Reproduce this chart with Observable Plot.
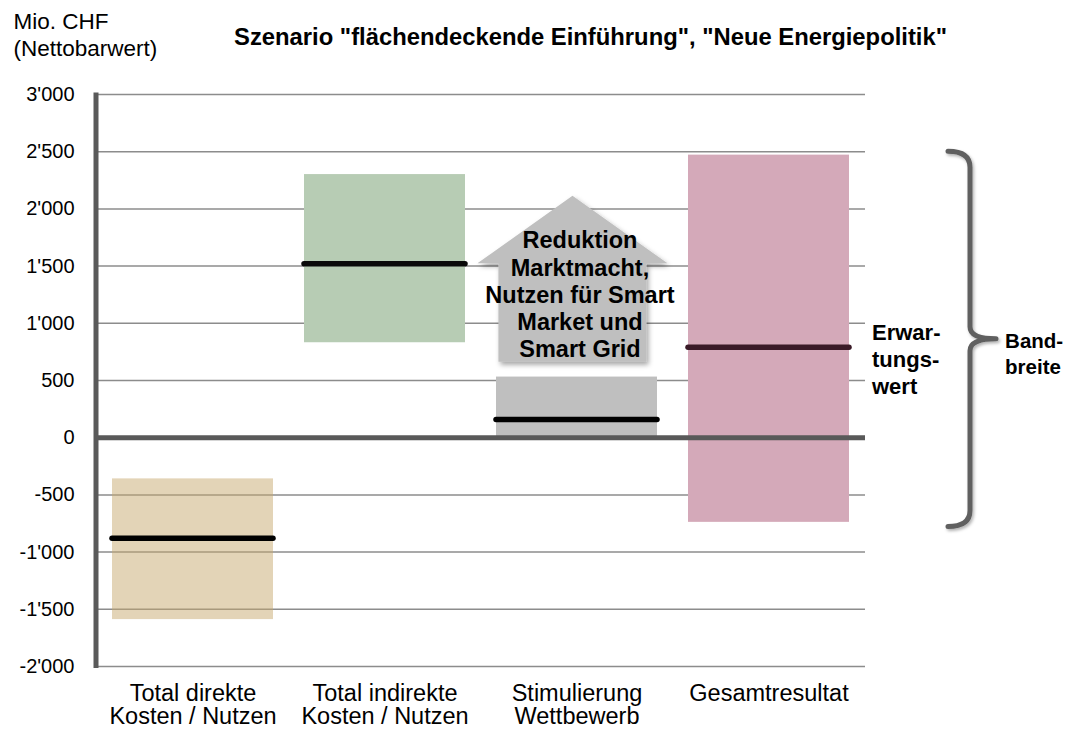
<!DOCTYPE html>
<html>
<head>
<meta charset="utf-8">
<script src="https://cdn.jsdelivr.net/npm/d3@7"></script>
<script src="https://cdn.jsdelivr.net/npm/@observablehq/plot@0.6"></script>
<style>
  html, body { margin: 0; padding: 0; background: #fff; }
  #chart svg { display: block; }
</style>
</head>
<body>
<div id="chart"></div>
<script>
// ---------- data ----------
const categories = ["Total direkte Kosten / Nutzen", "Total indirekte Kosten / Nutzen", "Stimulierung Wettbewerb", "Gesamtresultat"];
const xLabels = ["Total direkte\nKosten / Nutzen", "Total indirekte\nKosten / Nutzen", "Stimulierung\nWettbewerb", "Gesamtresultat"];
const rangeLow = [-1590, 830, 0, -740];
const rangeHigh = [-360, 2300, 530, 2470];
const expectedValue = [-880, 1520, 160, 790];
const yTicks = [-2000, -1500, -1000, -500, 0, 500, 1000, 1500, 2000, 2500, 3000];
const yDomain = [-2000, 3000];

const arrowCategory = "Stimulierung Wettbewerb";
const arrowTip = 2110;
const arrowShoulder = 1520;
const arrowBase = 660;
const arrowText = "Reduktion\nMarktmacht,\nNutzen für Smart\nMarket und\nSmart Grid";

const braceTop = 2500;
const braceBottom = -780;

const titleText = 'Szenario "flächendeckende Einführung", "Neue Energiepolitik"';
const unitText = "Mio. CHF\n(Nettobarwert)";
const expectedLabel = "Erwar-\ntungs-\nwert";
const rangeLabel = "Band-\nbreite";

// ---------- styles ----------
const barColors = ["#c6a76d", "#b7ccb4", "#bfbfbf", "#d4a9b9"];
const barOpacity = [0.49, 1, 1, 1];
const meanColors = ["#000000", "#0a0a0a", "#000000", "#3a1a27"];
const FONT = "'Liberation Sans', Arial, Helvetica, sans-serif";

const rows = categories.map((c, i) => ({
  cat: c, label: xLabels[i], low: rangeLow[i], high: rangeHigh[i], mean: expectedValue[i]
}));

const fmt = d3.formatLocale({decimal: ".", thousands: "'", grouping: [3], currency: ["", ""], minus: "-"}).format(",");

const SVGNS = "http://www.w3.org/2000/svg";
function el(name, attrs) {
  const e = document.createElementNS(SVGNS, name);
  for (const k in attrs) e.setAttribute(k, attrs[k]);
  return e;
}

// arrow (house shape) in the "Stimulierung Wettbewerb" band
function arrowMark(index, scales, values, dims) {
  const x = scales.x, y = scales.y;
  const bw = x.bandwidth();
  const cx = x(arrowCategory) + bw * 0.475;
  const hw = bw * 0.59, rw = bw * 0.46;
  const yt = y(arrowTip), ys = y(arrowShoulder), yb = y(arrowBase);
  const g = el("g", {});
  const defs = el("defs", {});
  const f = el("filter", {id: "arrowShadow", x: "-20%", y: "-20%", width: "140%", height: "140%"});
  f.appendChild(el("feDropShadow", {dx: 2, dy: 3, stdDeviation: 2.5, "flood-color": "#000", "flood-opacity": 0.35}));
  defs.appendChild(f);
  g.appendChild(defs);
  const d = `M${cx},${yt} L${cx + hw},${ys} L${cx + rw},${ys} L${cx + rw},${yb} L${cx - rw},${yb} L${cx - rw},${ys} L${cx - hw},${ys} Z`;
  g.appendChild(el("path", {d, fill: "#bfbfbf", filter: "url(#arrowShadow)"}));
  return g;
}

// thick left axis line
function axisLine(index, scales, values, dims) {
  const y = scales.y;
  const x0 = dims.marginLeft - 1;
  return el("line", {x1: x0, x2: x0, y1: y(yDomain[1]) - 1.5, y2: y(yDomain[0]) + 2, stroke: "#5a5a5a", "stroke-width": 5});
}

// curly brace to the right
function braceMark(index, scales, values, dims) {
  const y = scales.y;
  const right = dims.width - dims.marginRight;
  const xl = right + 83, xv = right + 105, xt = right + 131;
  const yT = y(braceTop), yB = y(braceBottom), yM = (yT + yB) / 2;
  const g = el("g", {});
  const defs = el("defs", {});
  const f = el("filter", {id: "braceShadow", x: "-50%", y: "-10%", width: "200%", height: "120%"});
  f.appendChild(el("feDropShadow", {dx: 1.5, dy: 2, stdDeviation: 1.5, "flood-color": "#000", "flood-opacity": 0.3}));
  defs.appendChild(f);
  g.appendChild(defs);
  const d = `M${xl},${yT} Q${xv},${yT} ${xv},${yT + 16} L${xv},${yM - 12} Q${xv},${yM} ${xt},${yM} Q${xv},${yM} ${xv},${yM + 12} L${xv},${yB - 16} Q${xv},${yB} ${xl},${yB}`;
  g.appendChild(el("path", {d, fill: "none", stroke: "#606060", "stroke-width": 5, "stroke-linecap": "round", "stroke-linejoin": "round", filter: "url(#braceShadow)"}));
  return g;
}

const plot = Plot.plot({
  width: 1078,
  height: 731,
  marginLeft: 97,
  marginRight: 213,
  marginTop: 94,
  marginBottom: 65,
  style: {fontFamily: FONT, fontSize: "20px", color: "#000", background: "#fff"},
  x: {type: "band", domain: categories, paddingInner: 0.16, paddingOuter: 0.08, axis: null},
  y: {domain: yDomain, ticks: yTicks, tickFormat: fmt, tickSize: 0, tickPadding: 23, label: null},
  marks: [
    Plot.ruleY(yTicks.filter(v => v !== 0), {stroke: "#8c8c8c", strokeWidth: 1.5}),
    ...rows.map((r, i) => Plot.barY([r], {x: "cat", y1: "low", y2: "high", fill: barColors[i], fillOpacity: barOpacity[i]})),
    arrowMark,
    ...rows.map((r, i) => Plot.tickY([r], {x: "cat", y: "mean", stroke: meanColors[i], strokeWidth: 5.5, strokeLinecap: "round"})),
    Plot.ruleY([0], {stroke: "#595959", strokeWidth: 5}),
    axisLine,
    braceMark,
    Plot.text([arrowText], {
      x: () => arrowCategory, y: () => arrowBase, text: d => d,
      dx: 3, dy: -4.7, textAnchor: "middle", lineAnchor: "bottom",
      fontSize: 23.5, fontWeight: "bold", lineHeight: 1.162, fill: "#000"
    }),
    Plot.text(rows, {
      x: "cat", text: "label", frameAnchor: "bottom", lineAnchor: "top",
      dy: 17, fontSize: 23.5, lineHeight: 1.02, fill: "#000"
    }),
    Plot.text([expectedLabel], {
      y: () => expectedValue[3], text: d => d, frameAnchor: "right",
      dx: 6.5, dy: 46.5, textAnchor: "start", lineAnchor: "bottom",
      fontSize: 22, fontWeight: "bold", lineHeight: 1.227, fill: "#000"
    }),
    Plot.text([rangeLabel], {
      y: () => (braceTop + braceBottom) / 2, text: d => d, frameAnchor: "right",
      dx: 139.6, dy: 34.6, textAnchor: "start", lineAnchor: "bottom",
      fontSize: 20.5, fontWeight: "bold", lineHeight: 1.25, fill: "#000"
    }),
    Plot.text([titleText], {
      text: d => d, frameAnchor: "top-left", dx: 493, dy: -50,
      textAnchor: "middle", lineAnchor: "bottom",
      fontSize: 23.8, fontWeight: "bold", fill: "#000"
    }),
    Plot.text([unitText], {
      text: d => d, frameAnchor: "top-left", dx: -84, dy: -39,
      textAnchor: "start", lineAnchor: "bottom",
      fontSize: 22.5, lineHeight: 1.2, fill: "#000"
    })
  ]
});

document.getElementById("chart").appendChild(plot);
</script>
</body>
</html>
